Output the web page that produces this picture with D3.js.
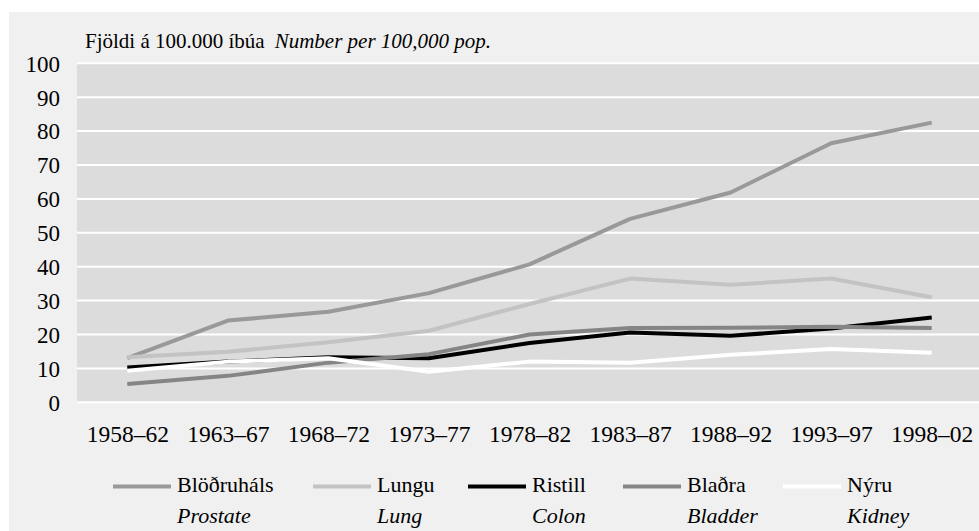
<!DOCTYPE html>
<html>
<head>
<meta charset="utf-8">
<script src="https://cdn.jsdelivr.net/npm/d3@7"></script>
</head>
<body style="margin:0">
<svg id="chart" width="979" height="531"></svg>
<script>
// periods on the x axis
var periods = ['1958–62', '1963–67', '1968–72', '1973–77', '1978–82', '1983–87', '1988–92', '1993–97', '1998–02'];
var yTicks = [0, 10, 20, 30, 40, 50, 60, 70, 80, 90, 100];

// rates per 100,000
var prostate = [13.0, 24.1, 26.7, 32.2, 40.7, 54.1, 61.9, 76.4, 82.5];
var lung     = [13.3, 14.9, 17.7, 21.1, 29.0, 36.5, 34.7, 36.5, 31.0];
var colon    = [10.3, 12.0, 13.3, 13.0, 17.5, 20.6, 19.6, 21.8, 25.0];
var bladder  = [5.4, 7.8, 11.7, 14.2, 20.0, 21.9, 22.0, 22.3, 21.9];
var kidney   = [9.3, 12.0, 13.0, 9.0, 12.0, 11.7, 14.0, 15.7, 14.6];

var names   = ['Blöðruháls', 'Lungu', 'Ristill', 'Blaðra', 'Nýru'];
var namesEn = ['Prostate', 'Lung', 'Colon', 'Bladder', 'Kidney'];

var series = [
  { is: names[0], en: namesEn[0], values: prostate, color: '#999999' },
  { is: names[1], en: namesEn[1], values: lung, color: '#c3c3c3' },
  { is: names[2], en: namesEn[2], values: colon, color: '#000000' },
  { is: names[3], en: namesEn[3], values: bladder, color: '#858585' },
  { is: names[4], en: namesEn[4], values: kidney, color: '#ffffff' }
];

var svg = d3.select('#chart');
var FONT = 'Liberation Serif';

// outer panel
svg.append('rect').attr('x', 9).attr('y', 12).attr('width', 970).attr('height', 519).attr('fill', '#f0f0f0');

var plotL = 77, plotR = 982, plotT = 63.3, plotB = 402.3;

var x = d3.scalePoint().domain(periods).range([plotL, plotR]).padding(0.5);
var y = d3.scaleLinear().domain([0, 100]).range([plotB, plotT]);

// plot area
svg.append('rect').attr('x', plotL).attr('y', plotT).attr('width', 979 - plotL).attr('height', plotB - plotT).attr('fill', '#dcdcdc');

// gridlines
svg.append('g').selectAll('line').data(yTicks).enter()
  .append('line')
  .attr('x1', plotL).attr('x2', 979)
  .attr('y1', d => y(d)).attr('y2', d => y(d))
  .attr('stroke', '#fff').attr('stroke-width', 2);

// y axis labels
var yAxis = svg.append('g')
  .attr('transform', 'translate(' + (plotL - 17) + ',0)')
  .call(d3.axisLeft(y).tickValues(yTicks).tickSize(0).tickPadding(0));
yAxis.attr('font-family', FONT).attr('font-size', 23);
yAxis.select('.domain').remove();
yAxis.selectAll('text').attr('fill', '#000').attr('dy', '0.34em').attr('font-family', FONT);

// x axis labels
var xAxis = svg.append('g')
  .attr('transform', 'translate(0,' + (plotB + 23) + ')')
  .call(d3.axisBottom(x).tickSize(0).tickPadding(0));
xAxis.attr('font-family', FONT).attr('font-size', 23.5);
xAxis.select('.domain').remove();
xAxis.selectAll('text').attr('fill', '#000').attr('font-family', FONT);

// title
var title = svg.append('text').attr('x', 85).attr('y', 48)
  .attr('font-family', FONT).attr('font-size', 21);
title.append('tspan').text('Fjöldi á 100.000 íbúa');
title.append('tspan').attr('dx', 10).attr('font-style', 'italic').text('Number per 100,000 pop.');

// lines
var line = d3.line().x((d, i) => x(periods[i])).y(d => y(d));
svg.append('g').selectAll('path').data(series).enter()
  .append('path')
  .attr('d', d => line(d.values))
  .attr('fill', 'none')
  .attr('stroke', d => d.color)
  .attr('stroke-width', 4)
  .attr('stroke-linejoin', 'round');

// legend
var legendX = [113, 313, 468, 623, 783];
var lg = svg.append('g').selectAll('g').data(series).enter()
  .append('g')
  .attr('transform', (d, i) => 'translate(' + legendX[i] + ',0)');
lg.append('line').attr('x1', 0).attr('x2', 58).attr('y1', 486.5).attr('y2', 486.5)
  .attr('stroke', d => d.color).attr('stroke-width', 4);
lg.append('text').attr('x', 64).attr('y', 492)
  .attr('font-family', FONT).attr('font-size', 22).attr('fill', '#000')
  .text(d => d.is);
lg.append('text').attr('x', 64).attr('y', 523)
  .attr('font-family', FONT).attr('font-size', 22).attr('font-style', 'italic').attr('fill', '#000')
  .text(d => d.en);
</script>
</body>
</html>
